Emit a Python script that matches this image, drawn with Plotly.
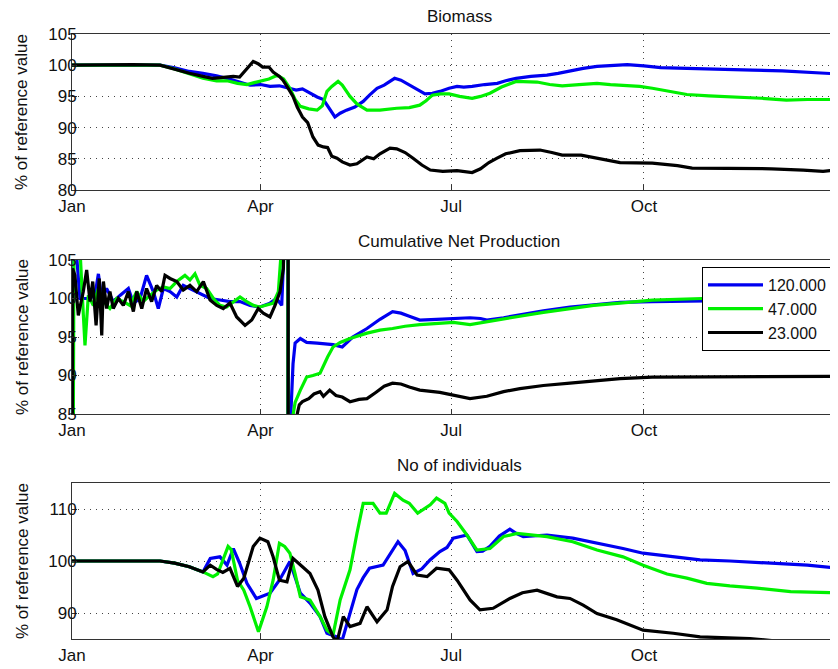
import plotly.graph_objects as go

# ---------------- data (day of year, % of reference value) ----------------
month_ticks = [1, 91, 182, 274]
month_labels = ["Jan", "Apr", "Jul", "Oct"]
series_names = ["120.000", "47.000", "23.000"]
series_colors = ["#0000f0", "#00f000", "#000000"]

# Biomass
bio_days_120 = [1, 20, 43, 50, 57, 63.5, 70, 77, 82, 86, 91, 95.5, 100, 104, 108, 111, 114, 118, 121, 124, 126.5,
                129, 132, 136, 140, 143, 146.6, 150, 155, 158, 162, 166, 169.5, 173, 176.6, 181, 184.8, 188, 192,
                198, 204, 208, 213, 220, 227.7, 233, 238.7, 245, 251.6, 258, 266, 274, 282, 294.5, 310, 326, 340,
                352, 360, 366.6]
bio_120 = [100, 100, 100, 99.6, 99.0, 98.7, 98.3, 97.7, 97.2, 96.8, 96.9, 96.6, 96.7, 96.4, 96.0, 96.2, 95.6, 94.9,
           94.5, 93.0, 91.7, 92.3, 92.8, 93.3, 94.2, 95.2, 96.3, 96.8, 97.9, 97.6, 96.8, 96.0, 95.4, 95.5, 95.8,
           96.3, 96.6, 96.5, 96.6, 96.9, 97.1, 97.5, 97.9, 98.2, 98.4, 98.7, 99.1, 99.5, 99.8, 99.9, 100.1, 99.9,
           99.6, 99.5, 99.3, 99.2, 99.1, 98.9, 98.7, 98.6]
bio_days_47 = [1, 43, 50, 57, 63.5, 70, 75, 80, 84.5, 88, 92, 95, 99, 102, 105, 107.5, 110, 114, 118, 120.5, 122.7,
               125, 128, 130, 133.7, 137, 141.8, 148, 156, 162, 167, 170, 173, 177, 181, 186, 192, 196, 200.5, 206,
               213, 218, 223, 229, 235, 243, 251.6, 258, 266, 272, 278, 286, 294.5, 305, 318, 330, 342, 352, 366.6]
bio_47 = [100, 100, 99.4, 98.6, 97.9, 97.5, 97.5, 97.1, 96.9, 97.2, 97.6, 97.8, 98.4, 97.8, 96.3, 94.5, 93.4, 93.0,
          92.8, 93.5, 95.8, 96.6, 97.4, 96.8, 95.0, 93.8, 92.8, 92.8, 93.1, 93.2, 93.6, 94.3, 95.2, 95.4, 95.4,
          95.0, 94.7, 95.0, 95.5, 96.5, 97.4, 97.4, 97.3, 96.9, 96.7, 96.9, 97.1, 96.9, 96.8, 96.6, 96.3, 95.8,
          95.3, 95.1, 94.9, 94.7, 94.4, 94.5, 94.5]
bio_days_23 = [1, 30, 43, 50, 57, 63.5, 68, 72, 78, 81, 84, 87.5, 90, 92, 95, 97, 100, 101.7, 104, 106.5, 108.5, 111,
               113.5, 116, 118.5, 121, 123, 125, 127.5, 130, 133.7, 137, 141.8, 145, 148, 152.8, 156, 160, 163.8,
               168, 172, 178, 184.8, 188, 192, 196, 200, 203.9, 208, 214.8, 224.4, 230, 235, 244, 251.6, 262.6,
               278, 290, 297, 318, 335, 350, 359.5, 366.6]
bio_23 = [100, 100.1, 100, 99.3, 98.7, 98.2, 97.9, 98.0, 98.2, 98.1, 99.2, 100.6, 100.2, 99.7, 99.7, 98.9, 98.2,
          97.6, 96.4, 95.0, 93.3, 91.7, 90.8, 88.5, 87.2, 86.9, 86.8, 85.4, 85.1, 84.5, 84.0, 84.2, 85.3, 85.0,
          85.8, 86.7, 86.6, 86.0, 85.1, 84.0, 83.2, 83.0, 83.1, 83.0, 82.8, 83.4, 84.4, 85.1, 85.8, 86.3, 86.4,
          86.0, 85.6, 85.6, 85.1, 84.4, 84.3, 83.9, 83.5, 83.5, 83.4, 83.2, 83.0, 83.2]

# Cumulative Net Production
cnp_days_120 = [1, 1.6, 2.5, 4.8, 9.6, 12.0, 13.6, 15.2, 17.5, 20.7, 23.9, 27.9, 30.3, 33.5, 36.6, 39.8, 42.2, 44.6,
                47.8, 51.0, 54.1, 57.3, 60.5, 63.7, 66.9, 71.6, 76.4, 81.2, 86.0, 90.7, 95.5, 98.7, 101.1, 102.7,
                104.0, 104.2, 105.3, 106.5, 107.5, 110, 113, 118, 122, 125.6, 130, 135, 141.8, 148, 154, 158, 162,
                167, 175, 183, 191, 196, 199, 207, 214.8, 226, 238.7, 250, 262.6, 278, 301.7, 330, 366.6]
cnp_120 = [40, 110, 108, 100.0, 100.0, 100.5, 103.2, 100.0, 101.3, 99.6, 100.4, 101.3, 99.4, 100.0, 103.0, 100.9,
           98.7, 101.3, 100.9, 100.2, 101.7, 101.3, 100.9, 100.4, 100.0, 99.8, 99.6, 99.6, 99.1, 98.9, 99.4, 100.0,
           99.1, 110, 200, -50, 84, 91.5, 94.2, 94.8, 94.3, 94.2, 94.1, 94.0, 93.7, 95.0, 96.1, 97.3, 98.3, 98.1,
           97.7, 97.2, 97.3, 97.4, 97.5, 97.4, 97.2, 97.5, 97.9, 98.4, 98.9, 99.2, 99.5, 99.6, 99.7, 99.8, 99.8]
cnp_days_47 = [1, 2.0, 4.0, 4.7, 6.0, 7.2, 8.8, 11.2, 13.6, 16.0, 19.1, 22.3, 25.5, 28.7, 31.9, 35.0, 38.2, 41.4,
               44.6, 47.8, 51.0, 54.9, 57.3, 59.7, 62.1, 65.3, 68.5, 71.6, 74.8, 78.0, 81.2, 84.4, 87.6, 90.7, 93.9,
               97.1, 99.5, 101.1, 104.0, 104.2, 106, 107.5, 110, 113, 116, 119.4, 123, 125.6, 129, 133.7, 141.8, 148,
               154, 160, 167, 175, 183, 191, 199, 207, 214.8, 226, 238.7, 250, 262.6, 278, 301.7, 330, 366.6]
cnp_47 = [40, 110, 108, 107, 100, 93.9, 100.4, 99.1, 101.3, 99.6, 98.7, 100.0, 99.6, 99.1, 100.9, 99.6, 100.4,
          101.1, 101.5, 101.3, 102.2, 103.0, 102.4, 103.2, 101.7, 101.3, 100.0, 99.1, 98.9, 99.6, 100.2, 99.6, 99.1,
          98.9, 99.1, 99.4, 100.9, 107, 200, -50, 84, 86.5, 88.1, 89.8, 90.0, 90.3, 92.4, 93.7, 94.3, 94.8, 95.5,
          95.9, 96.1, 96.4, 96.6, 96.8, 96.9, 96.6, 97.0, 97.3, 97.7, 98.2, 98.7, 99.1, 99.4, 99.8, 100.0, 100.1,
          100.1]
cnp_days_23 = [1.0, 1.3, 2.4, 4.0, 6.4, 8.0, 9.6, 10.9, 12.5, 14.0, 15.2, 16.0, 17.5, 19.1, 20.7, 23.1, 25.5, 27.9,
               30.3, 31.9, 34.3, 36.6, 39.0, 41.4, 43.8, 45.4, 47.8, 51.0, 54.1, 57.3, 60.5, 63.7, 66.9, 70.1, 73.2,
               76.4, 79.6, 83.6, 86.8, 89.9, 92.3, 95.5, 97.9, 100.3, 101.9, 103.0, 104.1, 104.3, 107.5, 108.5,
               109.5, 111, 114, 116.5, 119.4, 121, 124, 127, 130, 133.7, 138, 141.8, 146, 150, 154, 158, 162, 167,
               176.6, 185, 191, 199, 207, 214.8, 226, 238.7, 250, 262.6, 278, 300, 326, 350, 366.6]
cnp_23 = [40, 103.9, 103.0, 97.8, 100.9, 103.7, 99.6, 102.2, 96.5, 102.6, 95.2, 102.2, 98.7, 100.9, 98.7, 100.0,
          99.1, 100.9, 98.3, 100.9, 98.7, 101.3, 99.6, 101.7, 100.9, 103.0, 102.6, 102.2, 101.1, 101.7, 100.9,
          102.2, 99.8, 99.1, 98.7, 99.4, 97.6, 96.5, 97.2, 98.7, 98.1, 97.6, 99.1, 100.9, 103.9, 120, 300, -100, 70,
          85.0, 86.2, 86.6, 87.0, 87.6, 87.9, 87.3, 88.1, 87.4, 87.2, 86.6, 86.9, 87.0, 87.8, 88.6, 89.0, 88.9,
          88.5, 88.1, 87.8, 87.3, 87.0, 87.3, 87.9, 88.3, 88.7, 89.0, 89.3, 89.6, 89.8, 89.8, 89.8, 89.9, 89.9]

# No of individuals
ind_days_120 = [1, 43, 50, 57, 63.5, 67, 71.6, 75, 78, 81, 84.5, 89, 95.5, 100, 105, 107, 110, 114.6, 119.4, 122.7,
                127.5, 130, 133.7, 137, 140, 143, 149.5, 153, 156.6, 160, 163.8, 168, 171.9, 176.6, 180, 183, 189.5,
                194.3, 197, 200.5, 205, 210, 213, 216.4, 227.7, 240, 251.6, 264, 273.6, 287, 300.8, 315, 328, 340,
                352, 366.6]
ind_120 = [100, 100, 99.6, 98.9, 97.9, 100.5, 100.8, 99.2, 102.4, 99.6, 95.7, 92.8, 93.8, 96.3, 99.9, 97.5, 93.8,
           91.9, 89.3, 86.1, 85.4, 84.8, 89.9, 94.5, 96.8, 98.6, 99.2, 101.5, 103.7, 102.0, 97.6, 98.5, 100.2, 101.8,
           102.6, 104.4, 105.0, 101.8, 101.9, 102.8, 104.8, 106.1, 105.3, 104.7, 105.0, 104.4, 103.5, 102.4, 101.5,
           100.9, 100.2, 100.0, 99.7, 99.5, 99.2, 98.6]
ind_days_47 = [1, 43, 50, 57, 63.5, 68.3, 70.5, 73, 75.5, 77, 80, 83, 86, 90, 94, 97, 100, 102.5, 105, 107.5, 110,
               114.6, 119.4, 122.7, 125.6, 129, 133.7, 137, 140, 144.7, 148, 151, 155, 159, 162, 166, 172, 175, 179,
               181, 184.8, 189.5, 194.3, 200.5, 207, 213.4, 227.7, 240, 251.6, 264, 273.6, 285, 294.5, 304, 315, 328,
               344, 366.6]
ind_47 = [100, 100, 99.6, 98.9, 97.9, 97.0, 97.5, 100, 102.8, 102.2, 96.3, 94.4, 91.2, 86.4, 91.2, 96.3, 103.4,
          102.8, 101.5, 97.5, 93.1, 92.5, 89.3, 86.7, 85.8, 92.5, 98.3, 105.3, 111.1, 111.1, 109.2, 109.2, 113.0,
          111.7, 111.1, 109.2, 110.8, 112.1, 111.1, 109.2, 107.6, 105.0, 102.1, 102.4, 104.7, 105.3, 104.7, 103.7,
          102.1, 100.8, 99.2, 97.5, 96.7, 95.7, 95.2, 94.8, 94.1, 93.9]
ind_days_23 = [1, 43, 50, 57, 63.5, 67, 70, 73, 76.4, 80, 83, 87.5, 90.7, 94.5, 97, 100, 103.6, 106.5, 111, 114.6,
               118.4, 121.7, 125.6, 127.5, 130.5, 133.7, 138.5, 141.8, 146.6, 151.4, 154, 157.6, 161.4, 165.7, 170.5,
               175, 181, 184.8, 191, 195.7, 202, 210, 216, 223, 232.5, 238.7, 245, 251.6, 261, 273.6, 288, 300.8,
               324.6, 340, 366.6]
ind_23 = [100, 100, 99.6, 98.9, 97.9, 99.2, 98.4, 97.8, 98.6, 95.1, 96.7, 102.8, 104.4, 103.7, 100.8, 96.3, 96.0,
          100.5, 98.9, 97.6, 94.4, 89.3, 85.4, 84.5, 89.3, 87.4, 88.0, 91.2, 88.3, 90.6, 95.1, 98.9, 99.9, 97.3,
          97.0, 98.6, 98.3, 96.3, 92.5, 90.6, 90.9, 92.8, 93.9, 94.4, 93.1, 92.8, 91.5, 89.9, 88.7, 86.7, 86.1,
          85.4, 85.1, 84.5, 84.0]

panel_titles = ["Biomass", "Cumulative Net Production", "No of individuals"]
y_label = "% of reference value"

# ---------------- figure ----------------
# the page body has an 8px margin, so the figure is 830x661 placed at (8, 8)
OFF = 8
W, H = 838 - OFF, 669 - OFF
FONT = "Liberation Sans, Arial, Helvetica, sans-serif"
AX = "#333333"
TXT = "#111111"


def px(X):
    return (X - OFF) / W


def py(Y):
    return (H - (Y - OFF)) / H


panels = [
    dict(series=[(bio_days_120, bio_120), (bio_days_47, bio_47), (bio_days_23, bio_23)],
         yr=[80, 105], yt=[80, 85, 90, 95, 100, 105], top=34, bot=190, title_y=16),
    dict(series=[(cnp_days_120, cnp_120), (cnp_days_47, cnp_47), (cnp_days_23, cnp_23)],
         yr=[85, 105], yt=[85, 90, 95, 100, 105], top=260, bot=414, title_y=241),
    dict(series=[(ind_days_120, ind_120), (ind_days_47, ind_47), (ind_days_23, ind_23)],
         yr=[85, 115], yt=[90, 100, 110], top=483, bot=639, title_y=465),
]

fig = go.Figure()
layout = dict(width=W, height=H, margin=dict(l=0, r=0, t=0, b=0),
              paper_bgcolor="white", plot_bgcolor="white",
              font=dict(family=FONT, size=17, color=TXT),
              showlegend=True, annotations=[])

for i, p in enumerate(panels):
    n = "" if i == 0 else str(i + 1)
    for k, (d, v) in enumerate(p["series"]):
        fig.add_trace(go.Scatter(x=d, y=v, mode="lines", name=series_names[k],
                                 line=dict(color=series_colors[k], width=3.2),
                                 showlegend=(i == 1), xaxis="x" + n, yaxis="y" + n))
    layout["xaxis" + n] = dict(domain=[px(72), 1], range=[1, 1 + (838 - 72) / 2.095], anchor="y" + n,
                               tickmode="array", tickvals=month_ticks, ticktext=month_labels,
                               ticks="inside", ticklen=5, tickcolor=AX, showline=True, linecolor=AX,
                               linewidth=1, mirror=True, showgrid=True, gridcolor="#444444", gridwidth=1,
                               griddash="1px,5px", zeroline=False, automargin=False, ticklabelstandoff=1,
                               tickfont=dict(size=17, family=FONT, color=TXT))
    layout["yaxis" + n] = dict(domain=[py(p["bot"]), py(p["top"])], range=p["yr"], anchor="x" + n,
                               tickmode="array", tickvals=p["yt"], ticks="inside", ticklen=5,
                               tickcolor=AX, showline=True, linecolor=AX, linewidth=1, showgrid=True,
                               gridcolor="#444444", gridwidth=1, griddash="1px,5px", zeroline=False,
                               automargin=False, ticklabelstandoff=-9,
                               tickfont=dict(size=17, family=FONT, color=TXT))
    layout["annotations"].append(dict(text=panel_titles[i], xref="paper", yref="paper",
                                      x=px(459), y=py(p["title_y"]), xanchor="center",
                                      yanchor="middle", showarrow=False,
                                      font=dict(size=17, family=FONT, color=TXT)))
    layout["annotations"].append(dict(text=y_label, xref="paper", yref="paper", textangle=-90,
                                      x=px(22), y=py((p["top"] + p["bot"]) / 2), xanchor="center",
                                      yanchor="middle", showarrow=False,
                                      font=dict(size=17, family=FONT, color=TXT)))

layout["legend"] = dict(x=px(702), y=py(267), xanchor="left", yanchor="top",
                        bordercolor="black", borderwidth=1, bgcolor="white",
                        font=dict(size=16, family=FONT, color=TXT), tracegroupgap=0,
                        itemwidth=55, entrywidth=150, entrywidthmode="pixels")
fig.update_layout(**layout)
fig.write_html("out.html")
